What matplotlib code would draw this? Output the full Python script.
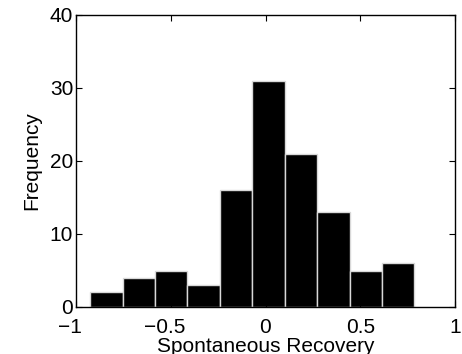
import numpy as np
import matplotlib
matplotlib.use("Agg")
import matplotlib.pyplot as plt
from matplotlib.transforms import ScaledTranslation

plt.rcParams['font.family'] = ['Liberation Sans', 'DejaVu Sans']
plt.rcParams['axes.unicode_minus'] = True

# Histogram of spontaneous recovery scores (10 equal-width bins)
bin_lo, bin_hi = -0.925, 0.786
counts = [2, 4, 5, 3, 16, 31, 21, 13, 5, 6]
x_ticks = [-1, -0.5, 0, 0.5, 1]
x_tick_labels = ['\u22121', '\u22120.5', '0', '0.5', '1']
y_ticks = [0, 10, 20, 30, 40]

edges = np.linspace(bin_lo, bin_hi, len(counts) + 1)
width = edges[1] - edges[0]

fig = plt.figure(figsize=(4.62, 3.54), dpi=100)
ax = fig.add_axes([76 / 462, 1 - 307 / 354, (455 - 76) / 462, (307 - 15) / 354])

ax.bar(edges[:-1], counts, width=width, align='edge', color='black',
       edgecolor='#d8d8d8', linewidth=1.0)

ax.set_xlim(-1, 1)
ax.set_ylim(0, 40)
ax.set_xticks(x_ticks)
ax.set_xticklabels(x_tick_labels)
ax.set_yticks(y_ticks)
ax.tick_params(direction='in', top=True, right=True, length=4, width=0.8,
               labelsize=15)
ax.tick_params(axis='y', pad=2)
ax.tick_params(axis='x', pad=8)
for s in ax.spines.values():
    s.set_linewidth(1.0)

# centre the digits on the tick, letting a leading minus sign hang to the left
shift = ScaledTranslation(-4.6 / 72, 0, fig.dpi_scale_trans)
for lab in ax.get_xticklabels():
    if lab.get_text().startswith('\u2212'):
        lab.set_transform(lab.get_transform() + shift)

ax.set_xlabel('Spontaneous Recovery', fontsize=15, labelpad=0)
ax.set_ylabel('Frequency', fontsize=15, labelpad=6)

fig.savefig('out.png', dpi=100)
